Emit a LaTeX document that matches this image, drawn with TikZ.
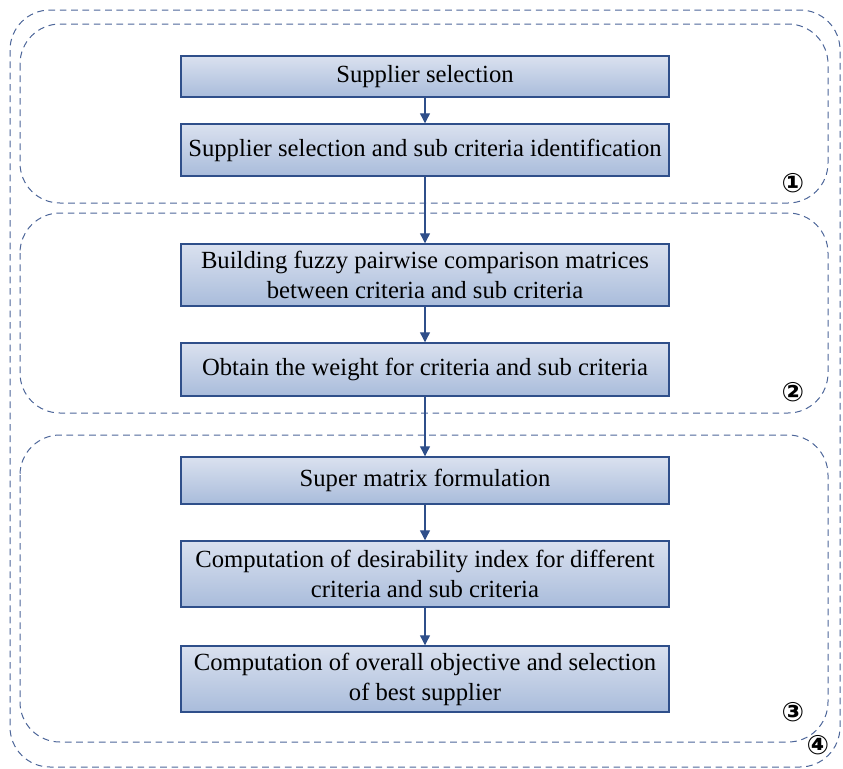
\documentclass[tikz,border=0pt]{standalone}
\usepackage{fontspec}
\setmainfont{Liberation Serif}
\newfontfamily\circfont{DejaVu Sans}
\usetikzlibrary{arrows.meta}
\definecolor{boxline}{HTML}{2F4F8A}
\definecolor{boxtop}{HTML}{DAE1EF}
\definecolor{boxbot}{HTML}{A9BCDB}
\definecolor{dashc}{HTML}{4D6699}
\tikzset{
  stepbox/.style={draw=boxline, line width=1.1pt, top color=boxtop, bottom color=boxbot,
    minimum width=366pt, align=center, inner sep=2pt,
    font=\fontsize{18.5}{22.5}\selectfont},
  region/.style={draw=dashc, line width=0.75pt, dash pattern=on 5pt off 3.5pt, rounded corners=30pt},
  flow/.style={draw=boxline, line width=1pt, -{Triangle[length=7.5pt,width=7.5pt]}},
  numlab/.style={font=\circfont\bfseries\fontsize{20}{20}\selectfont, inner sep=0pt}
}
\begin{document}
\begin{tikzpicture}[x=0.75pt,y=-0.75pt]
\useasboundingbox (0,0) rectangle (843,768);
% regions
\draw[region] (10,10) rectangle (840,767);
\draw[region] (20,24) rectangle (828,203);
\draw[region] (20,213) rectangle (828,413);
\draw[region] (20,435) rectangle (828,742);
% boxes
\node[stepbox, minimum height=31pt] (b1) at (425,76.5) {Supplier selection};
\node[stepbox, minimum height=39pt] (b2) at (425,150) {Supplier selection and sub criteria identification};
\node[stepbox, minimum height=46.5pt] (b3) at (425,275) {Building fuzzy pairwise comparison matrices\\between criteria and sub criteria};
\node[stepbox, minimum height=39.75pt] (b4) at (425,369.5) {Obtain the weight for criteria and sub criteria};
\node[stepbox, minimum height=35.25pt] (b5) at (425,480.5) {Super matrix formulation};
\node[stepbox, minimum height=49.5pt] (b6) at (425,574) {Computation of desirability index for different\\criteria and sub criteria};
\node[stepbox, minimum height=49.5pt] (b7) at (425,679) {Computation of overall objective and selection\\of best supplier};
% arrows
\draw[flow] (b1) -- (b2);
\draw[flow] (b2) -- (b3);
\draw[flow] (b3) -- (b4);
\draw[flow] (b4) -- (b5);
\draw[flow] (b5) -- (b6);
\draw[flow] (b6) -- (b7);
% labels
\node[numlab] (n1) at (793,183) {①};
\node[numlab] (n2) at (793,392) {②};
\node[numlab] (n3) at (793,712) {③};
\node[numlab] (n4) at (818,745) {④};
\end{tikzpicture}
\end{document}
